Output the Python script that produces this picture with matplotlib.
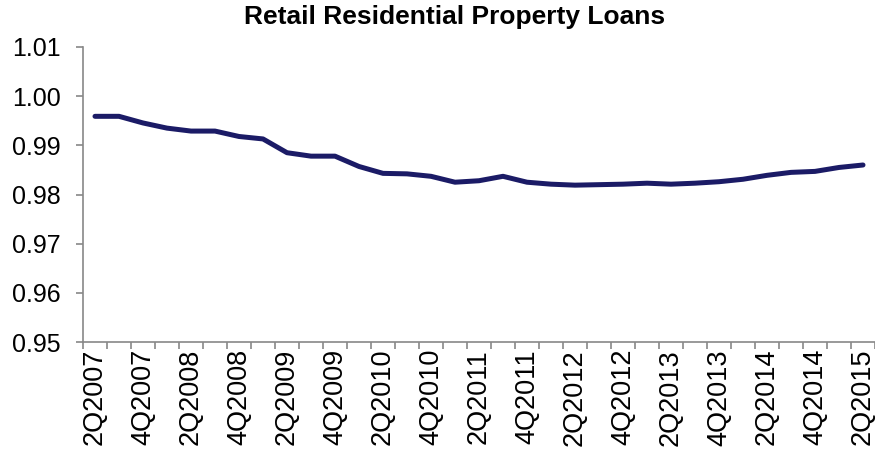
import numpy as np
import matplotlib.pyplot as plt

plt.rcParams['font.family'] = ['Liberation Sans', 'DejaVu Sans']

# quarters 2Q2007 .. 2Q2015
quarters = []
for year in range(2007, 2016):
    for q in range(1, 5):
        if (year == 2007 and q < 2) or (year == 2015 and q > 2):
            continue
        quarters.append(f"{q}Q{year}")

values = [0.9959, 0.9959, 0.99455, 0.9935, 0.9929, 0.9929, 0.9918, 0.9913,
          0.9885, 0.9878, 0.9878, 0.9857, 0.9843, 0.9842, 0.9837, 0.9825,
          0.9828, 0.9837, 0.9825, 0.9821, 0.9819, 0.9820, 0.9821, 0.9823,
          0.9821, 0.9823, 0.9826, 0.9831, 0.9839, 0.9845, 0.9847, 0.9855,
          0.9860]

x = np.arange(len(quarters))

fig = plt.figure(figsize=(8.75, 4.58), dpi=100)
ax = fig.add_axes([83 / 875, 1 - 342 / 458, 792 / 875, 295 / 458])

ax.plot(x, values, color='#1b1b66', linewidth=3.6, solid_capstyle='round')

ax.set_xlim(-0.5, len(quarters) - 0.5)
ax.set_ylim(0.95, 1.01)
ax.set_yticks(np.arange(0.95, 1.0101, 0.01))
ax.set_yticklabels([f"{v:.2f}" for v in np.arange(0.95, 1.0101, 0.01)])

ax.set_xticks(x[::2])
ax.set_xticklabels(quarters[::2], rotation=90)
ax.set_xticks(np.arange(-0.5, len(quarters), 1), minor=True)
ax.tick_params(axis='x', which='major', length=0, pad=5, labelsize=19.5)
ax.tick_params(axis='x', which='minor', length=5, width=1.2, color='#888888', direction='out')
ax.tick_params(axis='y', length=5, width=1.2, color='#888888', pad=11, labelsize=18)

for s in ['top', 'right']:
    ax.spines[s].set_visible(False)
for s in ['left', 'bottom']:
    ax.spines[s].set_color('#888888')
    ax.spines[s].set_linewidth(1.2)

fig.text(0.519, 0.962, 'Retail Residential Property Loans', ha='center', va='center',
         fontsize=19, fontweight='bold')

fig.savefig('out.png', dpi=100)
